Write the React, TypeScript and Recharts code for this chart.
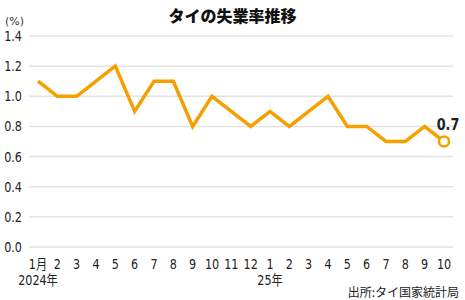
import { CartesianGrid, LabelList, Line, LineChart, XAxis, YAxis } from "recharts"

const MONTHS = [
    "1月", "2", "3", "4", "5", "6", "7", "8", "9", "10", "11", "12",
    "1", "2", "3", "4", "5", "6", "7", "8", "9", "10",
]
const YEARS: Record<number, string> = { 0: "2024年", 12: "25年" }
const RATE = [
    1.1, 1.0, 1.0, 1.1, 1.2, 0.9, 1.1, 1.1, 0.8, 1.0, 0.9, 0.8,
    0.9, 0.8, 0.9, 1.0, 0.8, 0.8, 0.7, 0.7, 0.8, 0.7,
]
const Y_TICKS = [0, 0.2, 0.4, 0.6, 0.8, 1.0, 1.2, 1.4]

const FONT = "'DejaVu Sans', 'Noto Sans CJK JP', sans-serif"
const SX = 0.8 // squeeze text horizontally to mimic the condensed face
const ORANGE = "#F5A000"

const data = MONTHS.map((m, i) => ({ idx: i, label: m, rate: RATE[i] }))

// narrow text: draw at x/SX inside a horizontal scale
function NarrowText({ x, y, anchor = "middle", size = 14, bold = false, children }: any) {
    return (
        <text
            x={x / SX}
            y={y}
            transform={`scale(${SX},1)`}
            textAnchor={anchor}
            fontSize={size}
            fontWeight={bold ? "bold" : "normal"}
            fill="#222"
            fontFamily={FONT}
        >
            {children}
        </text>
    )
}

function MonthTick({ x, y, payload }: any) {
    const i = payload.value as number
    return (
        <g>
            <NarrowText x={x} y={y + 14}>{MONTHS[i]}</NarrowText>
            {YEARS[i] && <NarrowText x={x} y={y + 30}>{YEARS[i]}</NarrowText>}
        </g>
    )
}

function RateTick({ x, y, payload }: any) {
    return (
        <NarrowText x={x} y={y + 5} anchor="end">
            {Number(payload.value).toFixed(1)}
        </NarrowText>
    )
}

function LastDot({ cx, cy, index }: any) {
    if (index !== RATE.length - 1) return null
    return <circle cx={cx} cy={cy} r={5} fill="#fff" stroke={ORANGE} strokeWidth={2.5} />
}

function LastLabel({ x, y, index, value }: any) {
    if (index !== RATE.length - 1) return null
    return (
        <NarrowText x={x + 4} y={y - 11} size={16} bold>
            {Number(value).toFixed(1)}
        </NarrowText>
    )
}

export default function App() {
    return (
        <div style={{ position: "fixed", left: 0, top: 0, width: 465, height: 300, background: "#fff" }}>
            <div
                style={{
                    position: "absolute", left: 0, top: 3, width: 465, textAlign: "center",
                    fontSize: 16, fontWeight: 900, color: "#111", fontFamily: "'Noto Sans CJK JP', sans-serif",
                }}
            >
                タイの失業率推移
            </div>
            <div style={{ position: "absolute", left: 5, top: 15, fontSize: 11, color: "#333", fontFamily: FONT }}>
                (%)
            </div>
            <div
                style={{
                    position: "absolute", right: 6, top: 283, fontSize: 12, color: "#222",
                    fontFamily: "'Noto Sans CJK JP', sans-serif",
                }}
            >
                出所:タイ国家統計局
            </div>
            <LineChart width={465} height={300} data={data} margin={{ top: 36, right: 12, left: 0, bottom: 0 }}>
                <CartesianGrid vertical={false} stroke="#e3e3e3" strokeWidth={1.5} />
                <XAxis
                    dataKey="idx"
                    type="category"
                    interval={0}
                    height={53}
                    padding={{ left: 9, right: 9 }}
                    axisLine={false}
                    tickLine={false}
                    tick={<MonthTick />}
                />
                <YAxis
                    domain={[0, 1.4]}
                    ticks={Y_TICKS}
                    width={29}
                    axisLine={false}
                    tickLine={false}
                    tickSize={0}
                    tickMargin={7}
                    tick={<RateTick />}
                />
                <Line
                    dataKey="rate"
                    type="linear"
                    stroke={ORANGE}
                    strokeWidth={3.5}
                    dot={<LastDot />}
                    activeDot={false}
                    isAnimationActive={false}
                >
                    <LabelList dataKey="rate" content={<LastLabel />} />
                </Line>
            </LineChart>
        </div>
    )
}
